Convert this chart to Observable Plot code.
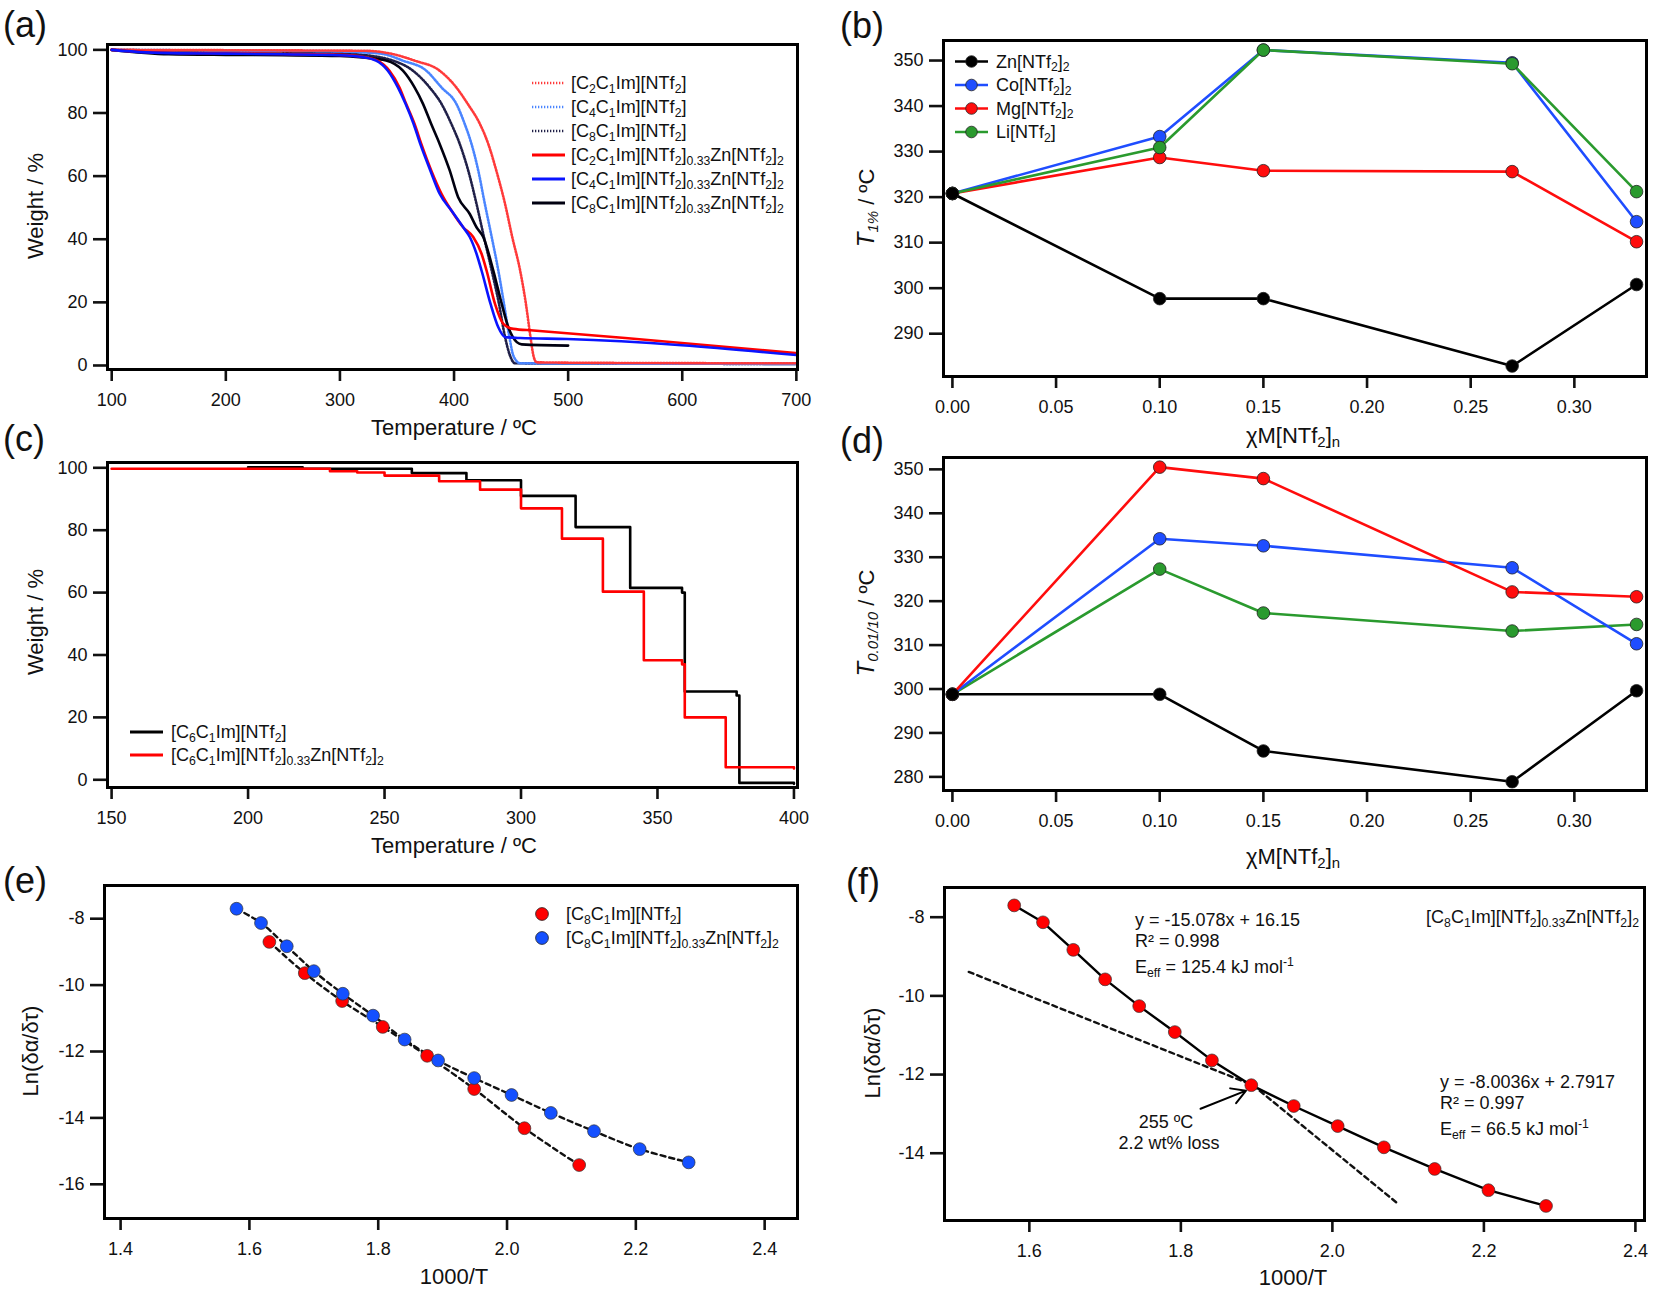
<!DOCTYPE html>
<html><head><meta charset="utf-8">
<script src="https://cdn.jsdelivr.net/npm/d3@7"></script>
<script src="https://cdn.jsdelivr.net/npm/@observablehq/plot@0.6"></script>
<style>
body{margin:0;background:#fff;}
#page{position:relative;width:1654px;height:1291px;overflow:hidden;font-family:"Liberation Sans",Arial,sans-serif;color:#111;background:#fff;}
.t{position:absolute;white-space:nowrap;line-height:1;}
.t sub{font-size:68%;vertical-align:baseline;position:relative;top:0.3em;}
.t sup{font-size:68%;vertical-align:baseline;position:relative;top:-0.55em;}
.panel{position:absolute;}
.panel svg{overflow:visible;max-width:none;}
#over{position:absolute;left:0;top:0;}
</style></head><body><div id="page"></div>
<script>
// ---------------- DATA ----------------
// (a) TGA ramps: temperature (ºC) and weight (%)
const aC2X = [100, 200, 280, 323, 346, 365.4, 387.4, 402, 412, 422.7, 430, 437, 444.7, 451, 457.9, 463, 467, 469.6, 472.5, 550, 700];
const aC2Y = [100, 99.9, 99.8, 99.7, 98.7, 96.6, 93.4, 88.1, 82.9, 76.5, 70.2, 61.8, 51.2, 40.7, 30.1, 19.5, 9.0, 3.1, 1.0, 0.8, 0.7];
const aC4X = [100, 200, 280, 315, 337.6, 355, 375.7, 389, 402, 409.4, 415.3, 421.2, 427, 433, 438.8, 443.8, 448.5, 452, 458, 700];
const aC4Y = [100, 99.8, 99.6, 99.3, 98.7, 96.6, 93.4, 88.1, 82.9, 76.5, 70.2, 61.8, 51.2, 40.7, 30.1, 19.5, 9.0, 3.1, 0.7, 0.5];
const aC8X = [100, 200, 280, 315, 346.4, 364, 378.6, 389, 397.7, 405, 412.4, 419.7, 426.2, 433, 439.4, 444.7, 448.5, 453.5, 700];
const aC8Y = [100, 99.6, 99.3, 98.6, 96.6, 93.4, 88.1, 82.9, 76.5, 70.2, 61.8, 51.2, 40.7, 30.1, 19.5, 9.0, 3.7, 0.7, 0.5];
const aC2ZnX = [100, 130, 160, 200, 250, 300, 320, 333, 343.4, 352.2, 358, 365.4, 371.3, 380, 389, 397.7, 408, 416.8, 424.1, 428.5, 435.9, 443.2, 452, 469.6, 550, 700];
const aC2ZnY = [100, 99.3, 99, 98.9, 98.7, 98.4, 97.8, 96.6, 93.4, 88.1, 82.9, 76.5, 70.2, 61.8, 54.4, 49.1, 43.8, 40.7, 35.4, 30.1, 19.5, 13.2, 11.6, 11.1, 8.7, 3.9];
const aC4ZnX = [100, 130, 160, 200, 250, 300, 320, 331.7, 342, 350.8, 357.5, 364.6, 370.4, 379.2, 387.4, 397.7, 408, 413.8, 419.7, 424.1, 432, 438.8, 444.7, 458, 499, 700];
const aC4ZnY = [100, 99.2, 98.9, 98.8, 98.6, 98.3, 97.7, 96.6, 93.4, 88.1, 82.9, 76.5, 70.2, 61.8, 54.4, 49.1, 43.8, 40.7, 35.4, 30.1, 19.5, 12.1, 9.0, 8.7, 8.4, 3.3];
const aC8ZnX = [100, 150, 200, 250, 300, 320, 340.5, 355.2, 365.4, 372.8, 380, 387.4, 396.2, 403.6, 413.8, 419.7, 425.6, 434.4, 441.8, 447.6, 455, 459.3, 500];
const aC8ZnY = [100, 98.6, 98.4, 98.3, 98.1, 97.6, 96.6, 93.4, 88.1, 82.9, 76.5, 70.2, 61.8, 53.3, 48.0, 43.8, 40.7, 30.1, 19.5, 12.1, 7.4, 6.7, 6.3];

// (b) T1% and (d) T0.01/10 versus mole fraction
const chiX = [0, 0.10, 0.15, 0.27, 0.33];
const bZn = [320.8, 297.7, 297.7, 282.9, 300.8];
const bCo = [320.8, 333.3, 352.3, 349.5, 314.6];
const bMg = [320.8, 328.7, 325.8, 325.6, 310.2];
const bLi = [320.8, 330.9, 352.3, 349.3, 321.2];
const dZn = [298.8, 298.8, 285.9, 278.9, 299.6];
const dCo = [298.8, 334.2, 332.6, 327.6, 310.3];
const dMg = [298.8, 350.5, 347.9, 322.1, 321.0];
const dLi = [298.8, 327.3, 317.3, 313.2, 314.7];

// (c) isothermal step TGA
const cILX = [200, 220, 260, 280, 300, 320, 340, 359, 360, 379, 380, 400];
const cILY = [100.2, 99.7, 98.3, 96, 91, 81, 61.5, 60, 28.3, 27, -1, -1.3];
const cZnX = [150, 230, 240, 250, 270, 285, 300, 315, 330, 345, 359, 360, 375, 400];
const cZnY = [99.7, 98.9, 98.5, 97.5, 95.7, 93, 87, 77.3, 60.3, 38.3, 37, 20, 4, 3.6];

// (e)/(f) Arrhenius data
const eILX = [1.631, 1.686, 1.744, 1.807, 1.876, 1.949, 2.027, 2.112];
const eILY = [-8.70, -9.64, -10.48, -11.26, -12.13, -13.13, -14.31, -15.42];
const eZnX = [1.580, 1.618, 1.658, 1.700, 1.745, 1.792, 1.841, 1.893, 1.949, 2.007, 2.068, 2.135, 2.206, 2.282];
const eZnY = [-7.70, -8.13, -8.83, -9.58, -10.26, -10.92, -11.64, -12.27, -12.80, -13.31, -13.85, -14.40, -14.94, -15.34];
const fLowFitX = [1.52, 1.895];
const fLowFitY = [-9.39, -12.27];
const fHighFitX = [1.895, 2.087];
const fHighFitY = [-12.27, -15.29];
const fArrowX = [1.826, 1.886];
const fArrowY = [-12.87, -12.41];

// tick labels
const aXTicks = [100, 200, 300, 400, 500, 600, 700];
const wTicks = [0, 20, 40, 60, 80, 100];
const chiTicks = [0, 0.05, 0.10, 0.15, 0.20, 0.25, 0.30];
const bYTicks = [290, 300, 310, 320, 330, 340, 350];
const cXTicks = [150, 200, 250, 300, 350, 400];
const dYTicks = [280, 290, 300, 310, 320, 330, 340, 350];
const invTTicks = [1.4, 1.6, 1.8, 2.0, 2.2, 2.4];
const eYTicks = [-16, -14, -12, -10, -8];
const fXTicks = [1.6, 1.8, 2.0, 2.2, 2.4];
const fYTicks = [-14, -12, -10, -8];

// ---------------- helpers ----------------
const page = document.getElementById("page");
const FONT = "'Liberation Sans', Arial, sans-serif";
const zip = (xs, ys) => xs.map((x, i) => ({x, y: ys[i]}));
const RED = "#ff0d0d", BLUE = "#1f4dff", GREEN = "#2a9a2e", BLACK = "#000";

function panel(o) {
  const mL = 80, mR = 15, mT = 15, mB = 55;
  const w = o.right - o.left + mL + mR, h = o.bottom - o.top + mT + mB;
  const chart = Plot.plot({
    width: w, height: h, marginLeft: mL, marginRight: mR, marginTop: mT, marginBottom: mB,
    x: {domain: o.xDomain}, y: {domain: o.yDomain},
    style: {fontFamily: FONT, fontSize: "18px", color: "#111", background: "transparent", overflow: "visible"},
    marks: [
      ...o.marks,
      Plot.axisX({ticks: o.xTicks, tickFormat: o.xFmt || (d => String(d)), tickSize: 12, tickPadding: 12, strokeWidth: 2.6, label: null}),
      Plot.axisY({ticks: o.yTicks, tickFormat: o.yFmt || (d => String(d)), tickSize: 14, tickPadding: 6, strokeWidth: 2.6, label: null}),
      Plot.frame({stroke: "#000", strokeWidth: 3})
    ]
  });
  const div = document.createElement("div");
  div.className = "panel";
  div.style.left = (o.left - mL) + "px";
  div.style.top = (o.top - mT) + "px";
  div.append(chart);
  page.append(div);
  return chart;
}

function text(html, x, y, {size = 18, anchor = "start", rotate = false, style = ""} = {}) {
  const d = document.createElement("div");
  d.className = "t";
  d.innerHTML = html;
  d.style.cssText += `left:${x}px;top:${y}px;font-size:${size}px;` + style;
  const tx = anchor === "start" ? "0" : anchor === "middle" ? "-50%" : "-100%";
  d.style.transform = `translate(${tx},-50%)` + (rotate ? " rotate(-90deg)" : "");
  page.append(d);
  return d;
}

// ---------------- (a) ----------------
const dotted = "1.3,1.7";
const cRd = "#ff3a3a", cBd = "#4a85ff", cKd = "#202048";
panel({
  left: 107, right: 797, top: 44, bottom: 369,
  xDomain: [96.3, 701], yDomain: [-1.27, 101.7],
  xTicks: aXTicks, yTicks: wTicks,
  marks: [
    Plot.line(zip(aC8X, aC8Y), {x: "x", y: "y", stroke: cKd, strokeWidth: 2.6, strokeDasharray: dotted, curve: "monotone-x"}),
    Plot.line(zip(aC4X, aC4Y), {x: "x", y: "y", stroke: cBd, strokeWidth: 2.6, strokeDasharray: dotted, curve: "monotone-x"}),
    Plot.line(zip(aC2X, aC2Y), {x: "x", y: "y", stroke: cRd, strokeWidth: 2.6, strokeDasharray: dotted, curve: "monotone-x"}),
    Plot.line(zip(aC8ZnX, aC8ZnY), {x: "x", y: "y", stroke: "#000010", strokeWidth: 2.6, curve: "monotone-x"}),
    Plot.line(zip(aC2ZnX, aC2ZnY), {x: "x", y: "y", stroke: "#ff0000", strokeWidth: 2.6, curve: "monotone-x"}),
    Plot.line(zip(aC4ZnX, aC4ZnY), {x: "x", y: "y", stroke: "#0a14ff", strokeWidth: 2.6, curve: "monotone-x"})
  ]
});

// ---------------- (b) ----------------
function chiMarks(series) {
  const m = [];
  for (const [ys, c] of series) {
    const d = zip(chiX, ys);
    m.push(Plot.line(d, {x: "x", y: "y", stroke: c, strokeWidth: 2.6}));
    m.push(Plot.dot(d, {x: "x", y: "y", r: 6.3, fill: c, stroke: "#222", strokeWidth: 0.8}));
  }
  return m;
}
panel({
  left: 943, right: 1646, top: 40, bottom: 376,
  xDomain: [-0.0043, 0.3348], yDomain: [280.6, 354.4],
  xTicks: chiTicks, yTicks: bYTicks, xFmt: d => d.toFixed(2),
  marks: chiMarks([[bCo, BLUE], [bMg, RED], [bLi, GREEN], [bZn, BLACK]])
});

// ---------------- (c) ----------------
panel({
  left: 107, right: 797, top: 462, bottom: 787,
  xDomain: [148.5, 401.3], yDomain: [-2.47, 101.7],
  xTicks: cXTicks, yTicks: wTicks,
  marks: [
    Plot.line(zip(cILX, cILY), {x: "x", y: "y", stroke: "#000", strokeWidth: 2.6, curve: "step-after"}),
    Plot.line(zip(cZnX, cZnY), {x: "x", y: "y", stroke: "#ff0000", strokeWidth: 2.6, curve: "step-after"})
  ]
});

// ---------------- (d) ----------------
panel({
  left: 943, right: 1646, top: 457, bottom: 790,
  xDomain: [-0.0043, 0.3348], yDomain: [276.9, 352.7],
  xTicks: chiTicks, yTicks: dYTicks, xFmt: d => d.toFixed(2),
  marks: chiMarks([[dLi, GREEN], [dCo, BLUE], [dMg, RED], [dZn, BLACK]])
});

// ---------------- (e) ----------------
panel({
  left: 104, right: 797, top: 885, bottom: 1218,
  xDomain: [1.375, 2.451], yDomain: [-17.03, -7.0],
  xTicks: invTTicks, yTicks: eYTicks, xFmt: d => d.toFixed(1),
  marks: [
    Plot.line(zip(eZnX, eZnY), {x: "x", y: "y", stroke: "#111", strokeWidth: 2.4, strokeDasharray: "5,4", curve: "catmull-rom"}),
    Plot.line(zip(eILX, eILY), {x: "x", y: "y", stroke: "#111", strokeWidth: 2.4, strokeDasharray: "5,4", curve: "catmull-rom"}),
    Plot.dot(zip(eILX, eILY), {x: "x", y: "y", r: 6.4, fill: "#ff0000", stroke: "#333", strokeWidth: 0.7}),
    Plot.dot(zip(eZnX, eZnY), {x: "x", y: "y", r: 6.4, fill: "#1450ff", stroke: "#333", strokeWidth: 0.7})
  ]
});

// ---------------- (f) ----------------
panel({
  left: 944, right: 1644, top: 887, bottom: 1220,
  xDomain: [1.488, 2.412], yDomain: [-15.71, -7.245],
  xTicks: fXTicks, yTicks: fYTicks, xFmt: d => d.toFixed(1),
  marks: [
    Plot.line(zip(fLowFitX, fLowFitY), {x: "x", y: "y", stroke: "#111", strokeWidth: 2.4, strokeDasharray: "5,4"}),
    Plot.line(zip(fHighFitX, fHighFitY), {x: "x", y: "y", stroke: "#111", strokeWidth: 2.4, strokeDasharray: "5,4"}),
    Plot.line(zip(eZnX, eZnY), {x: "x", y: "y", stroke: "#000", strokeWidth: 2.4}),
    Plot.dot(zip(eZnX, eZnY), {x: "x", y: "y", r: 6.4, fill: "#ff0000", stroke: "#333", strokeWidth: 0.7}),
    Plot.arrow([0], {x1: () => fArrowX[0], y1: () => fArrowY[0], x2: () => fArrowX[1], y2: () => fArrowY[1], stroke: "#000", strokeWidth: 2, headLength: 12})
  ]
});

// ---------------- overlay: legends, labels ----------------
const over = d3.select(page).append("svg").attr("id", "over").attr("width", 1654).attr("height", 1291).style("pointer-events", "none");
function swLine(x1, x2, y, color, dash, w = 2.6) {
  over.append("line").attr("x1", x1).attr("x2", x2).attr("y1", y).attr("y2", y)
    .attr("stroke", color).attr("stroke-width", w).attr("stroke-dasharray", dash || null);
}
function swDot(x, y, color, r = 6.3) {
  over.append("circle").attr("cx", x).attr("cy", y).attr("r", r).attr("fill", color).attr("stroke", "#222").attr("stroke-width", 0.8);
}

const IL = n => `[C<sub>${n}</sub>C<sub>1</sub>Im][NTf<sub>2</sub>]`;
const MIX = n => `[C<sub>${n}</sub>C<sub>1</sub>Im][NTf<sub>2</sub>]<sub>0.33</sub>Zn[NTf<sub>2</sub>]<sub>2</sub>`;

// panel letters
for (const [lab, x, y] of [["(a)", 3, 25], ["(b)", 840, 26], ["(c)", 3, 439], ["(d)", 840, 441], ["(e)", 3, 881], ["(f)", 846, 882]]) {
  text(lab, x, y, {size: 36});
}

// (a) legend
const aLeg = [[IL(2), cRd, dotted], [IL(4), cBd, dotted], [IL(8), cKd, dotted],
              [MIX(2), "#ff0000", null], [MIX(4), "#0a14ff", null], [MIX(8), "#000010", null]];
aLeg.forEach(([h, c, dash], i) => {
  const y = 83 + i * 24;
  swLine(532, 565, y, c, dash, dash ? 2.6 : 3);
  text(h, 571, y, {size: 18});
});

// (b) legend
const bLeg = [["Zn[NTf<sub>2</sub>]<sub>2</sub>", BLACK], ["Co[NTf<sub>2</sub>]<sub>2</sub>", BLUE], ["Mg[NTf<sub>2</sub>]<sub>2</sub>", RED], ["Li[NTf<sub>2</sub>]", GREEN]];
bLeg.forEach(([h, c], i) => {
  const y = 61.5 + i * 23.5;
  swLine(955, 988, y, c, null, 2.6);
  swDot(971.5, y, c, 5.8);
  text(h, 996, y, {size: 18});
});

// (c) legend
[[IL(6), "#000"], [MIX(6), "#ff0000"]].forEach(([h, c], i) => {
  const y = 732 + i * 23;
  swLine(130, 163, y, c, null, 3);
  text(h, 171, y, {size: 18});
});

// (e) legend
[[IL(8), "#ff0000"], [MIX(8), "#1450ff"]].forEach(([h, c], i) => {
  const y = 914 + i * 24;
  swDot(542, y, c, 6.4);
  text(h, 566, y, {size: 18});
});

// (f) annotations
text(MIX(8), 1639, 917, {size: 18, anchor: "end"});
text("y = -15.078x + 16.15", 1135, 920, {size: 18});
text("R² = 0.998", 1135, 941, {size: 18});
text("E<sub>eff</sub> = 125.4 kJ mol<sup>-1</sup>", 1135, 967, {size: 18});
text("y = -8.0036x + 2.7917", 1440, 1082, {size: 18});
text("R² = 0.997", 1440, 1103, {size: 18});
text("E<sub>eff</sub> = 66.5 kJ mol<sup>-1</sup>", 1440, 1129, {size: 18});
text("255 ºC", 1166, 1122, {size: 18, anchor: "middle"});
text("2.2 wt% loss", 1169, 1143, {size: 18, anchor: "middle"});

// axis titles
const TS = 22;
text("Weight / %", 36, 206, {size: TS, anchor: "middle", rotate: true});
text("Temperature / ºC", 454, 428, {size: TS, anchor: "middle"});
text("<i style='font-size:24px'>T</i><sub><i>1%</i></sub> / ºC", 866, 208, {size: TS, anchor: "middle", rotate: true});
text("χM[NTf<sub>2</sub>]<sub>n</sub>", 1293, 436, {size: TS, anchor: "middle"});
text("Weight / %", 36, 622, {size: TS, anchor: "middle", rotate: true});
text("Temperature / ºC", 454, 846, {size: TS, anchor: "middle"});
text("<i style='font-size:24px'>T</i><sub><i>0.01/10</i></sub> / ºC", 866, 623, {size: TS, anchor: "middle", rotate: true});
text("χM[NTf<sub>2</sub>]<sub>n</sub>", 1293, 857, {size: TS, anchor: "middle"});
text("Ln(δα/δτ)", 31, 1051, {size: TS, anchor: "middle", rotate: true});
text("1000/T", 454, 1277, {size: TS, anchor: "middle"});
text("Ln(δα/δτ)", 873, 1053, {size: TS, anchor: "middle", rotate: true});
text("1000/T", 1293, 1278, {size: TS, anchor: "middle"});
</script></body></html>
